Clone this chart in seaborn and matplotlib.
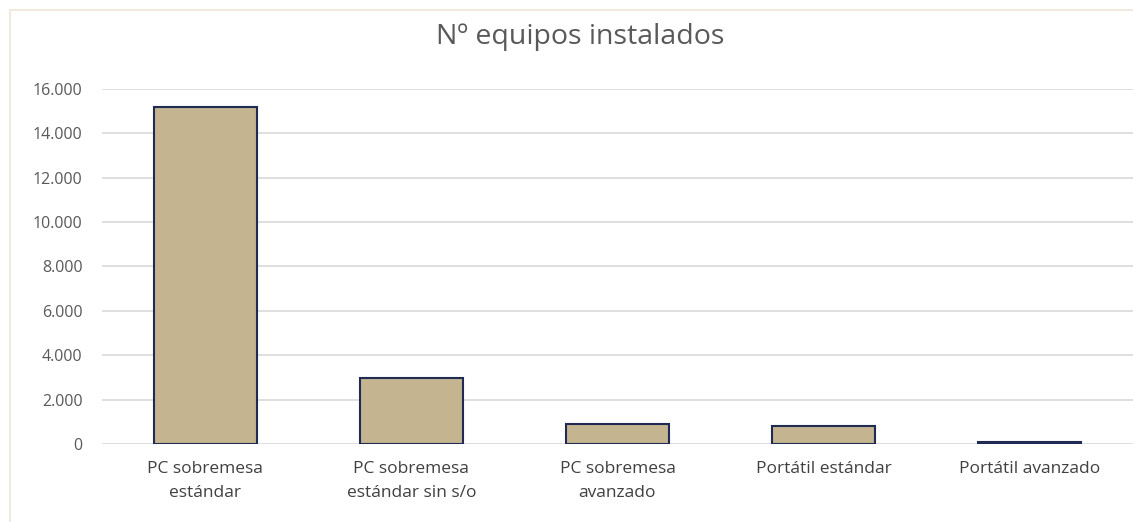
import numpy as np
import pandas as pd
import matplotlib.pyplot as plt
import matplotlib.ticker as mticker
from matplotlib.patches import Rectangle
import seaborn as sns

# Chart data
categorias = ['PC sobremesa\nestándar', 'PC sobremesa\nestándar sin s/o',
              'PC sobremesa\navanzado', 'Portátil estándar', 'Portátil avanzado']
equipos = [15190, 2990, 930, 810, 100]
y_ticks = [0, 2000, 4000, 6000, 8000, 10000, 12000, 14000, 16000]

sns.set_theme(style="white")
plt.rcParams['font.family'] = ['Open Sans', 'DejaVu Sans']

df = pd.DataFrame({'categoria': categorias, 'equipos': equipos})

fig = plt.figure(figsize=(11.33, 5.22), dpi=100)
ax = fig.add_axes([0.09, 0.149, 0.91, 0.681])

# light outer frame like the spreadsheet chart area
fig.patches.append(Rectangle((10 / 1133, -0.1), 1.2, 1.1 - 10 / 522,
                             transform=fig.transFigure, fill=False,
                             edgecolor='#efe6d6', linewidth=1.2))

sns.barplot(data=df, x='categoria', y='equipos', ax=ax, color='#c4b48f',
            edgecolor='#1f2a55', linewidth=1.5, width=0.5, saturation=1)

ax.set_ylim(0, 16000)
ax.set_xlim(-0.5, 4.5)
ax.set_yticks(y_ticks)
ax.yaxis.set_major_formatter(mticker.FuncFormatter(
    lambda v, p: f'{int(v):,}'.replace(',', '.')))
ax.grid(axis='y', color='#d9d9d9', linewidth=1.2)
ax.set_axisbelow(True)
for s in ax.spines.values():
    s.set_visible(False)
ax.tick_params(axis='y', labelsize=11.5, colors='#595959', length=0, pad=14)
ax.tick_params(axis='x', labelsize=12.5, colors='#404040', length=0, pad=12)
for lbl in ax.get_xticklabels():
    lbl.set_linespacing(1.65)
ax.set_xlabel('')
ax.set_ylabel('')

fig.text(0.512, 0.93, 'Nº equipos instalados', ha='center', va='center',
         fontsize=20.5, color='#595959')

fig.savefig('out.png', dpi=100)
